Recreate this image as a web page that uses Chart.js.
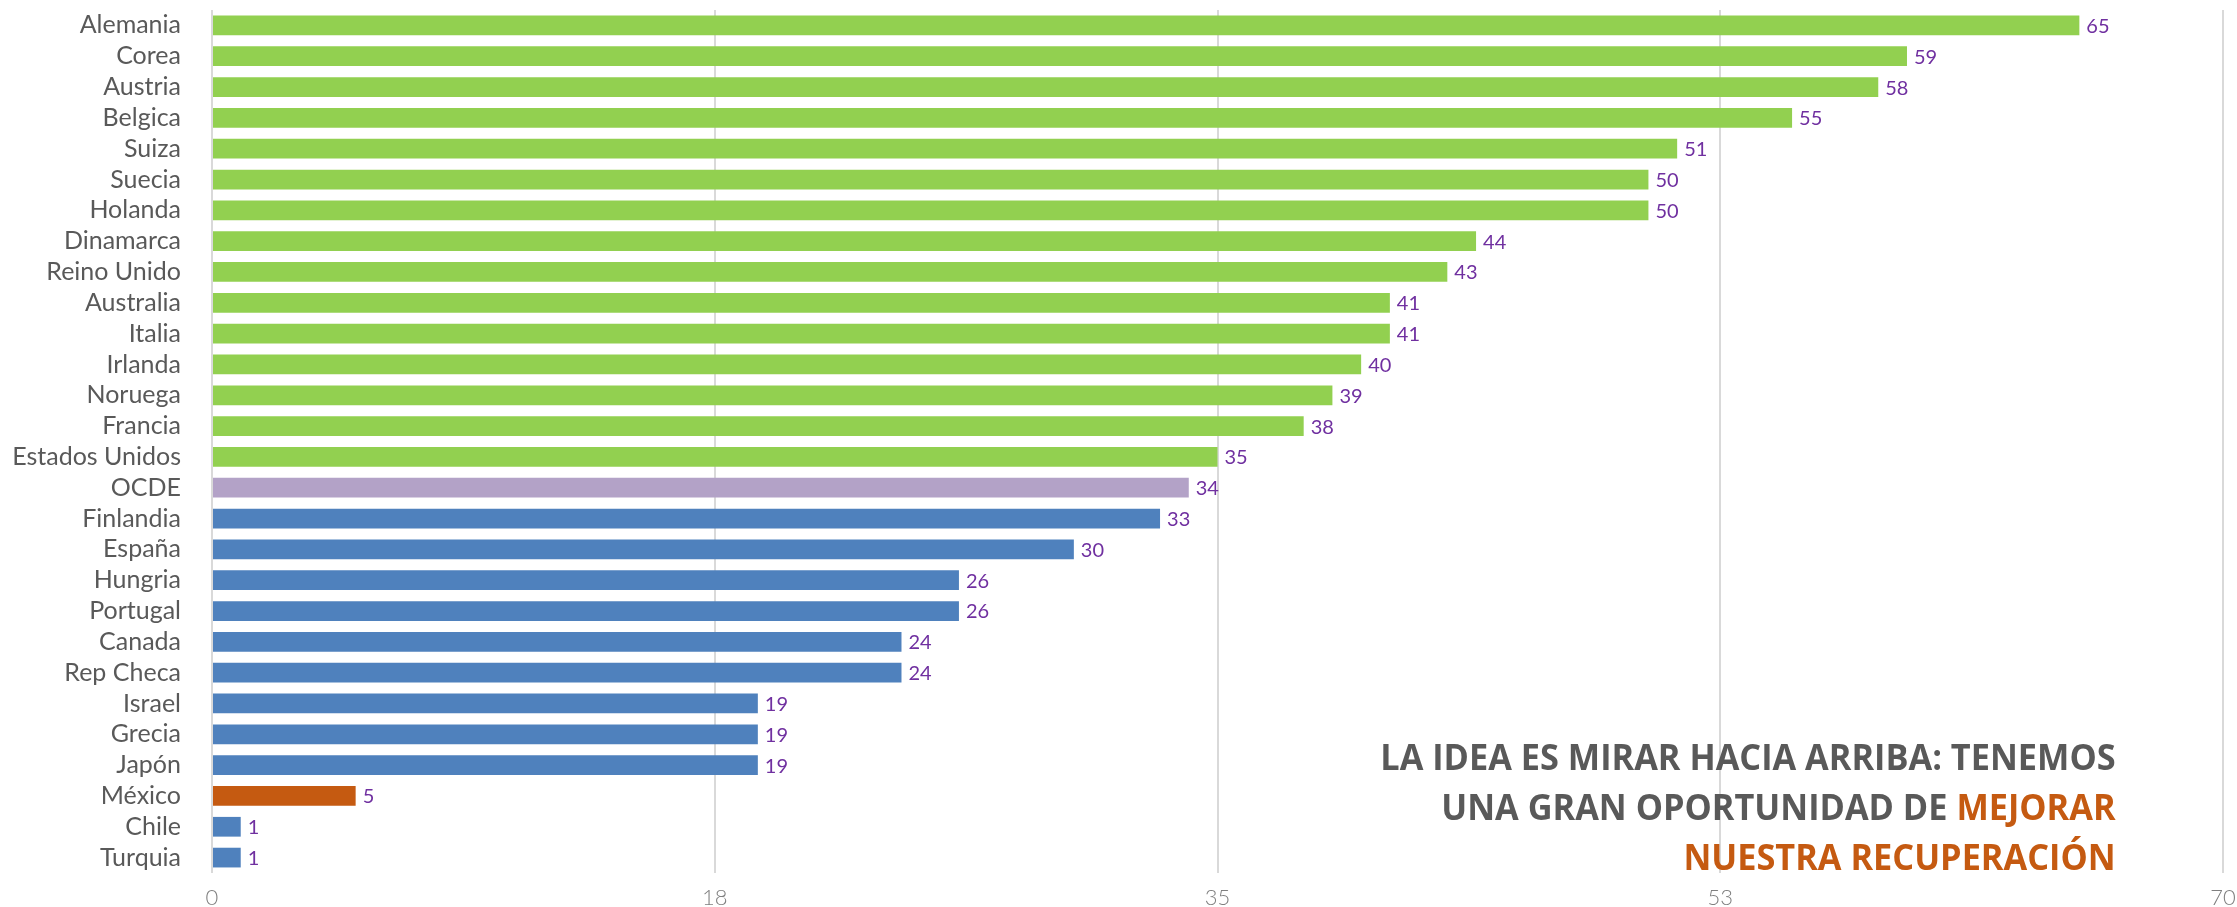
<!DOCTYPE html>
<html>
<head>
<meta charset="utf-8">
<script src="https://cdn.jsdelivr.net/npm/chart.js@4.4.0/dist/chart.umd.min.js"></script>
<style>
  html, body { margin: 0; padding: 0; background: #fff; }
  #wrap { position: relative; width: 2237px; height: 907px; }
  #nota {
    position: absolute; right: 121px; top: 732px;
    text-align: right; white-space: nowrap;
    font-family: "Open Sans", sans-serif; font-weight: 700;
    font-size: 36px; line-height: 50px; color: #595959;
    transform: scaleX(0.953); transform-origin: right top;
  }
  #nota .naranja { color: #c55a11; }
</style>
</head>
<body>
<div id="wrap">
  <canvas id="grafico" width="2237" height="907"></canvas>
  <div id="nota">LA IDEA ES MIRAR HACIA ARRIBA: TENEMOS<br>UNA GRAN OPORTUNIDAD DE <span class="naranja">MEJORAR</span><br><span class="naranja">NUESTRA RECUPERACIÓN</span></div>
</div>
<script>
const paises = ['Alemania', 'Corea', 'Austria', 'Belgica', 'Suiza', 'Suecia', 'Holanda', 'Dinamarca',
  'Reino Unido', 'Australia', 'Italia', 'Irlanda', 'Noruega', 'Francia', 'Estados Unidos', 'OCDE',
  'Finlandia', 'España', 'Hungria', 'Portugal', 'Canada', 'Rep Checa', 'Israel', 'Grecia', 'Japón',
  'México', 'Chile', 'Turquia'];
const valores = [65, 59, 58, 55, 51, 50, 50, 44, 43, 41, 41, 40, 39, 38, 35, 34, 33, 30, 26, 26, 24, 24, 19, 19, 19, 5, 1, 1];
const ejeMin = 0;
const ejeMax = 70;
const paso = 17.5;

const VERDE = '#92d050', AZUL = '#4f81bd', LILA = '#b3a2c7', NARANJA = '#c55a11';
const promedio = valores[paises.indexOf('OCDE')];
const colores = paises.map((p, i) => {
    if (p === 'OCDE') return LILA;
    if (p === 'México') return NARANJA;
    return valores[i] > promedio ? VERDE : AZUL;
});

// etiquetas de valor al final de cada barra
const etiquetas = {
    id: 'etiquetas',
    afterDatasetsDraw(chart) {
        const ctx = chart.ctx;
        const meta = chart.getDatasetMeta(0);
        ctx.save();
        ctx.font = '20px Lato';
        ctx.fillStyle = '#7030a0';
        ctx.textBaseline = 'middle';
        meta.data.forEach((bar, i) => {
            ctx.fillText(valores[i], bar.x + 7, bar.y + 1);
        });
        ctx.restore();
    }
};

function dibujar() {
    const ctx = document.getElementById('grafico').getContext('2d');
    new Chart(ctx, {
        type: 'bar',
        data: {
            labels: paises,
            datasets: [{
                data: valores,
                backgroundColor: colores,
                borderWidth: 0,
                barPercentage: 0.64,
                categoryPercentage: 1
            }]
        },
        plugins: [etiquetas],
        options: {
            indexAxis: 'y',
            responsive: false,
            animation: false,
            devicePixelRatio: 1,
            layout: { padding: { top: 10, right: 14, left: 0, bottom: 0 } },
            plugins: { legend: { display: false }, tooltip: { enabled: false } },
            scales: {
                x: {
                    min: ejeMin,
                    max: ejeMax,
                    border: { display: false },
                    grid: { color: '#d9d9d9', lineWidth: 2, drawTicks: false },
                    ticks: {
                        stepSize: paso,
                        padding: 12,
                        color: '#7f7f7f',
                        font: { family: 'Lato', size: 22, weight: 300 },
                        callback: v => Math.round(v)
                    },
                    afterFit: s => {
                        s.height = 34;
                        s.paddingLeft = 0;
                        s.paddingRight = 0;
                    }
                },
                y: {
                    border: { display: false },
                    grid: { display: false, drawTicks: false },
                    ticks: {
                        autoSkip: false,
                        padding: 31,
                        color: '#595959',
                        font: { family: 'Lato', size: 25 }
                    },
                    afterFit: s => {
                        s.width = 212;
                        s.paddingTop = 0;
                        s.paddingBottom = 0;
                    }
                }
            }
        }
    });
}

Promise.all([
    document.fonts.load('25px Lato'),
    document.fonts.load('300 22px Lato'),
    document.fonts.load('700 36px "Open Sans"')
]).then(dibujar, dibujar);
</script>
</body>
</html>
